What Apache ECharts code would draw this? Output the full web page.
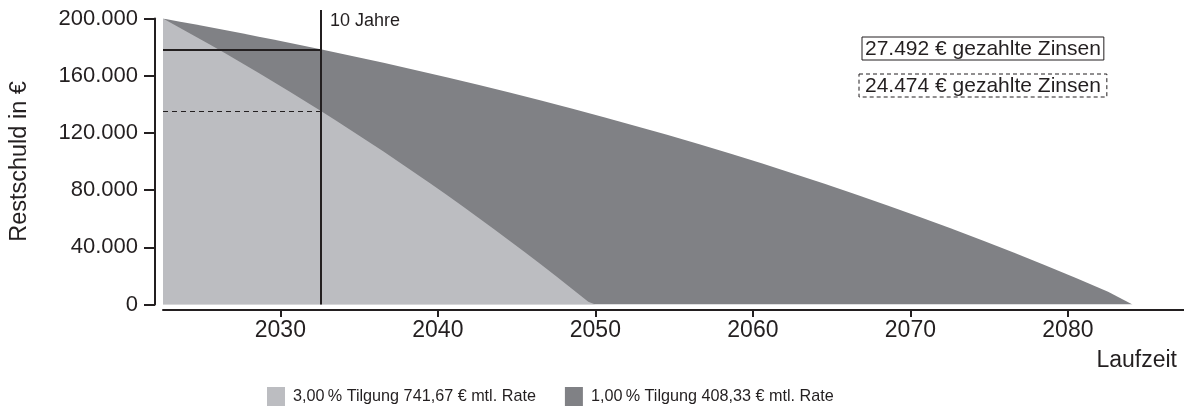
<!DOCTYPE html>
<html>
<head>
<meta charset="utf-8">
<script src="https://cdn.jsdelivr.net/npm/echarts@6/dist/echarts.min.js"></script>
<style>
  html, body { margin: 0; padding: 0; background: #fff; }
  #chart { width: 1184px; height: 410px; }
</style>
</head>
<body>
<div id="chart"></div>
<script>
// Restschuld (EUR) je Jahr, 3 % Tilgung
const jahreHell = [2022.55, 2023.55, 2024.55, 2025.55, 2026.55, 2027.55, 2028.55, 2029.55, 2030.55, 2031.55,
  2032.55, 2033.55, 2034.55, 2035.55, 2036.55, 2037.55, 2038.55, 2039.55, 2040.55, 2041.55,
  2042.55, 2043.55, 2044.55, 2045.55, 2046.55, 2047.55, 2048.55, 2049.55, 2050.0];
const restHell = [200000, 193960, 187831, 181614, 175305, 168905, 162411, 155822, 149137, 142355,
  135473, 128488, 121408, 114220, 106929, 99526, 92020, 84402, 76676, 68835,
  60882, 52813, 44624, 36317, 27886, 19333, 10656, 1850, 0];

// Restschuld (EUR), 1 % Tilgung
const jahreDunkel = [2022.55, 2023.55, 2024.55, 2025.55, 2026.55, 2027.55, 2028.55, 2029.55, 2030.55, 2031.55,
  2032.55, 2034.55, 2036.55, 2038.55, 2040.55, 2042.55, 2044.55, 2046.55, 2048.55, 2050.55,
  2052.55, 2054.55, 2056.55, 2058.55, 2060.55, 2062.55, 2064.55, 2066.55, 2068.55, 2070.55,
  2072.55, 2074.55, 2076.55, 2078.55, 2080.55, 2082.55, 2084.1];
const restDunkel = [200000, 197987, 195944, 193871, 191769, 189635, 187471, 185274, 183046, 180785,
  178491, 173803, 168977, 164007, 158893, 153628, 148209, 142630, 136886, 130978,
  124894, 118629, 112182, 105543, 98708, 91675, 84433, 76978, 69303, 61405,
  53274, 44903, 36287, 27413, 18284, 8887, 0];

const xTicks = [2030, 2040, 2050, 2060, 2070, 2080];
const zehnJahre = 2032.55;
const serienNamen = ['3,00\u2009% Tilgung 741,67 € mtl. Rate', '1,00\u2009% Tilgung 408,33 € mtl. Rate'];
const zinsen = ['27.492 € gezahlte Zinsen', '24.474 € gezahlte Zinsen'];

const hell = '#bcbdc1';
const dunkel = '#808185';
const schwarz = '#231f20';

const xMin = 2022.55, xMax = 2087.37;

function tausender(v) {
  return String(v).replace(/\B(?=(\d{3})+(?!\d))/g, '.');
}

const idx10 = jahreDunkel.indexOf(zehnJahre);
const idx10h = jahreHell.indexOf(zehnJahre);

const option = {
  animation: false,
  textStyle: { fontFamily: '"Liberation Sans", Arial, sans-serif', color: schwarz },
  title: [
    { text: '10 Jahre', left: 330, top: 12, padding: 0,
      textStyle: { fontSize: 18, fontWeight: 'normal', color: schwarz } },
    { text: '{a|' + zinsen[0] + '}', left: 862, top: 37, padding: 0,
      textStyle: { fontWeight: 'normal', rich: { a: { fontSize: 21, fontWeight: 'normal', color: schwarz,
        borderColor: schwarz, borderWidth: 1, padding: [2, 3, 0, 3] } } } },
    { text: '{a|' + zinsen[1] + '}', left: 859, top: 74, padding: 0,
      textStyle: { fontWeight: 'normal', rich: { a: { fontSize: 21, fontWeight: 'normal', color: schwarz,
        borderColor: schwarz, borderWidth: 1, borderType: [4, 3], padding: [2, 6, 0, 6] } } } }
  ],
  legend: {
    data: serienNamen,
    left: 267, top: 387, padding: 0,
    icon: 'rect', itemWidth: 18, itemHeight: 19, itemGap: 29,
    textStyle: { fontSize: 16.2, color: schwarz, padding: [0, 0, 0, 3] }
  },
  grid: [
    { left: 163, right: 0, top: 18.5, height: 286 },
    { left: 163, right: 0, top: 10, height: 294.5 }
  ],
  xAxis: [
    {
      type: 'value', gridIndex: 0, min: xMin, max: xMax, offset: 5.5,
      axisLine: { onZero: false, lineStyle: { color: schwarz, width: 2 } },
      axisTick: { customValues: xTicks, length: 7, lineStyle: { color: schwarz, width: 2 } },
      axisLabel: { customValues: xTicks, formatter: v => String(v), fontSize: 23, color: schwarz, margin: 9 },
      splitLine: { show: false },
      name: 'Laufzeit', nameLocation: 'end', nameGap: -7,
      nameTextStyle: { fontSize: 23, color: schwarz, align: 'right', verticalAlign: 'top', padding: [39, 0, 0, 0] }
    },
    { type: 'value', gridIndex: 1, min: xMin, max: xMax, show: false }
  ],
  yAxis: [
    {
      type: 'value', gridIndex: 0, min: 0, max: 200000, interval: 40000, offset: 8,
      axisLine: { show: true, lineStyle: { color: schwarz, width: 2 } },
      axisTick: { show: true, length: 11, lineStyle: { color: schwarz, width: 2 } },
      axisLabel: { formatter: tausender, fontSize: 22, color: schwarz, margin: 17 },
      splitLine: { show: false },
      name: 'Restschuld in €', nameLocation: 'middle', nameRotate: 90, nameGap: 135,
      nameTextStyle: { fontSize: 23.5, color: schwarz, verticalAlign: 'middle' }
    },
    { type: 'value', gridIndex: 1, min: 0, max: 205944, show: false }
  ],
  series: [
    {
      name: serienNamen[1], type: 'line', xAxisIndex: 0, yAxisIndex: 0,
      data: jahreDunkel.map((j, i) => [j, restDunkel[i]]),
      symbol: 'none', color: dunkel,
      lineStyle: { width: 0 },
      areaStyle: { color: dunkel, opacity: 1 }
    },
    {
      name: serienNamen[0], type: 'line', xAxisIndex: 0, yAxisIndex: 0,
      data: jahreHell.map((j, i) => [j, restHell[i]]),
      symbol: 'none', color: hell,
      lineStyle: { width: 0 },
      areaStyle: { color: hell, opacity: 1 },
      markLine: {
        silent: true, symbol: ['none', 'none'], label: { show: false },
        data: [
          [{ coord: [xMin, restDunkel[idx10]], lineStyle: { color: schwarz, width: 2, type: 'solid' } },
           { coord: [zehnJahre, restDunkel[idx10]] }],
          [{ coord: [xMin, restHell[idx10h]], lineStyle: { color: schwarz, width: 1, type: [5, 4] } },
           { coord: [zehnJahre, restHell[idx10h]] }]
        ]
      }
    },
    {
      type: 'line', xAxisIndex: 1, yAxisIndex: 1, data: [],
      markLine: {
        silent: true, symbol: ['none', 'none'], label: { show: false },
        lineStyle: { color: schwarz, width: 2, type: 'solid' },
        data: [{ xAxis: zehnJahre }]
      }
    }
  ]
};

const chart = echarts.init(document.getElementById('chart'));
chart.setOption(option);
</script>
</body>
</html>
